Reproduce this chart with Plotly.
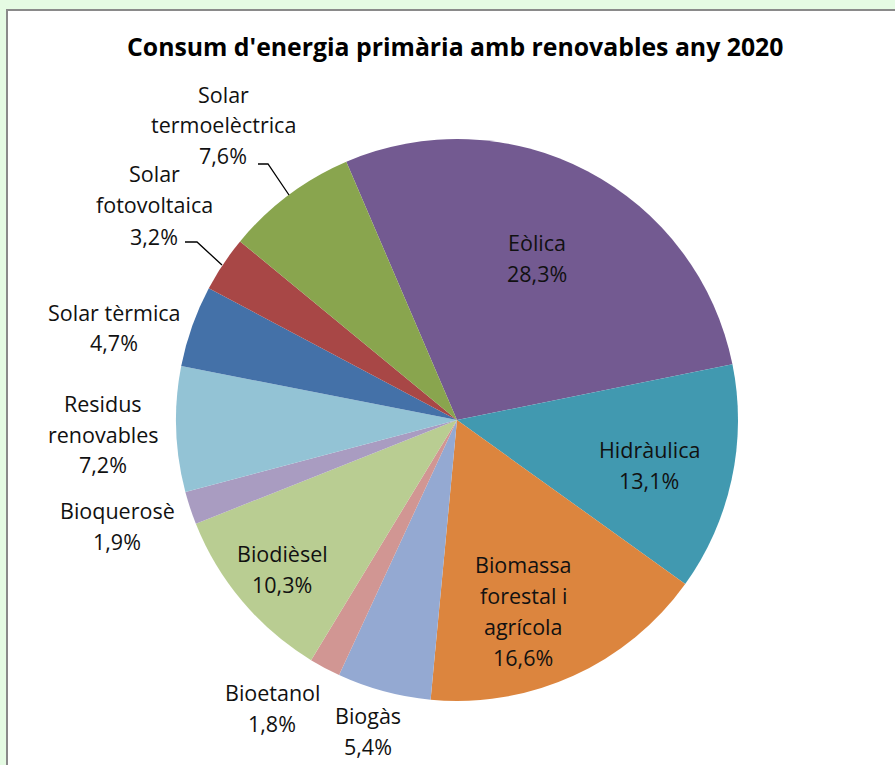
import plotly.graph_objects as go

# Primary energy consumption from renewables, 2020 (% share), clockwise from the top
categories = [
    "Eòlica", "Hidràulica", "Biomassa forestal i agrícola", "Biogàs", "Bioetanol",
    "Biodièsel", "Bioquerosè", "Residus renovables", "Solar tèrmica",
    "Solar fotovoltaica", "Solar termoelèctrica",
]
shares = [28.3, 13.1, 16.6, 5.4, 1.8, 10.3, 1.9, 7.2, 4.7, 3.2, 7.6]
colors = [
    "#735a91", "#4199b0", "#dc853e", "#94a9d2", "#d19693",
    "#b9cd92", "#a99cc1", "#93c3d5", "#4471a8", "#a84746", "#89a54e",
]
# How each category name is wrapped in its label
label_lines = [
    ["Eòlica"], ["Hidràulica"], ["Biomassa", "forestal i", "agrícola"], ["Biogàs"],
    ["Bioetanol"], ["Biodièsel"], ["Bioquerosè"], ["Residus", "renovables"],
    ["Solar tèrmica"], ["Solar", "fotovoltaica"], ["Solar", "termoelèctrica"],
]
title = "Consum d'energia primària amb renovables any 2020"

W, H = 895, 765
FONT = "Open Sans"
LINE_GAP = 31

# Label anchor (centre x, y of the first line) in pixels
label_pos = [
    (537, 242), (649, 449), (523, 564), (368, 715), (272, 692), (282, 553),
    (117, 510), (103, 403), (114, 312), (154, 174), (223, 94),
]
# Leader lines for the two small solar slices (pixels)
leaders = [
    [(258, 164), (268, 164), (289, 195)],
    [(185, 242), (197, 242), (222, 265)],
]


def px(x, y):
    return x / W, 1 - y / H


def fmt(v):
    return f"{v:.1f}".replace(".", ",") + "%"


cx, cy, r = 457, 420, 281
fig = go.Figure(go.Pie(
    labels=categories,
    values=shares,
    sort=False,
    direction="clockwise",
    rotation=-23.2,
    marker=dict(colors=colors, line=dict(width=0)),
    textinfo="none",
    hoverinfo="label+percent",
    showlegend=False,
    domain=dict(x=[(cx - r) / W, (cx + r) / W], y=[(H - cy - r) / H, (H - cy + r) / H]),
))

annotations = []
for lines, v, (x0, y0) in zip(label_lines, shares, label_pos):
    for i, t in enumerate(lines + [fmt(v)]):
        ax, ay = px(x0, y0 + i * LINE_GAP)
        annotations.append(dict(
            x=ax, y=ay, xref="paper", yref="paper", text=t, showarrow=False,
            xanchor="center", yanchor="middle",
            font=dict(family=FONT, size=21.5, color="#111111"),
        ))

tx, ty = px(455, 46)
annotations.append(dict(
    x=tx, y=ty, xref="paper", yref="paper", text=f"<b>{title}</b>", showarrow=False,
    xanchor="center", yanchor="middle",
    font=dict(family=FONT, size=24.8, color="#000000"),
))

shapes = [
    # chart area frame
    dict(type="rect", xref="paper", yref="paper",
         x0=7 / W, x1=1.02, y0=-0.02, y1=1 - 10 / H,
         fillcolor="white", line=dict(color="#8a8a8a", width=2), layer="below"),
]
for pts in leaders:
    path = "M " + " L ".join(f"{x / W},{1 - y / H}" for x, y in pts)
    shapes.append(dict(type="path", xref="paper", yref="paper", path=path,
                       line=dict(color="#000000", width=1.3)))

fig.update_layout(
    width=W, height=H,
    margin=dict(l=0, r=0, t=0, b=0),
    paper_bgcolor="#e5fbe3",
    plot_bgcolor="white",
    annotations=annotations,
    shapes=shapes,
)

fig.write_html("out.html")
